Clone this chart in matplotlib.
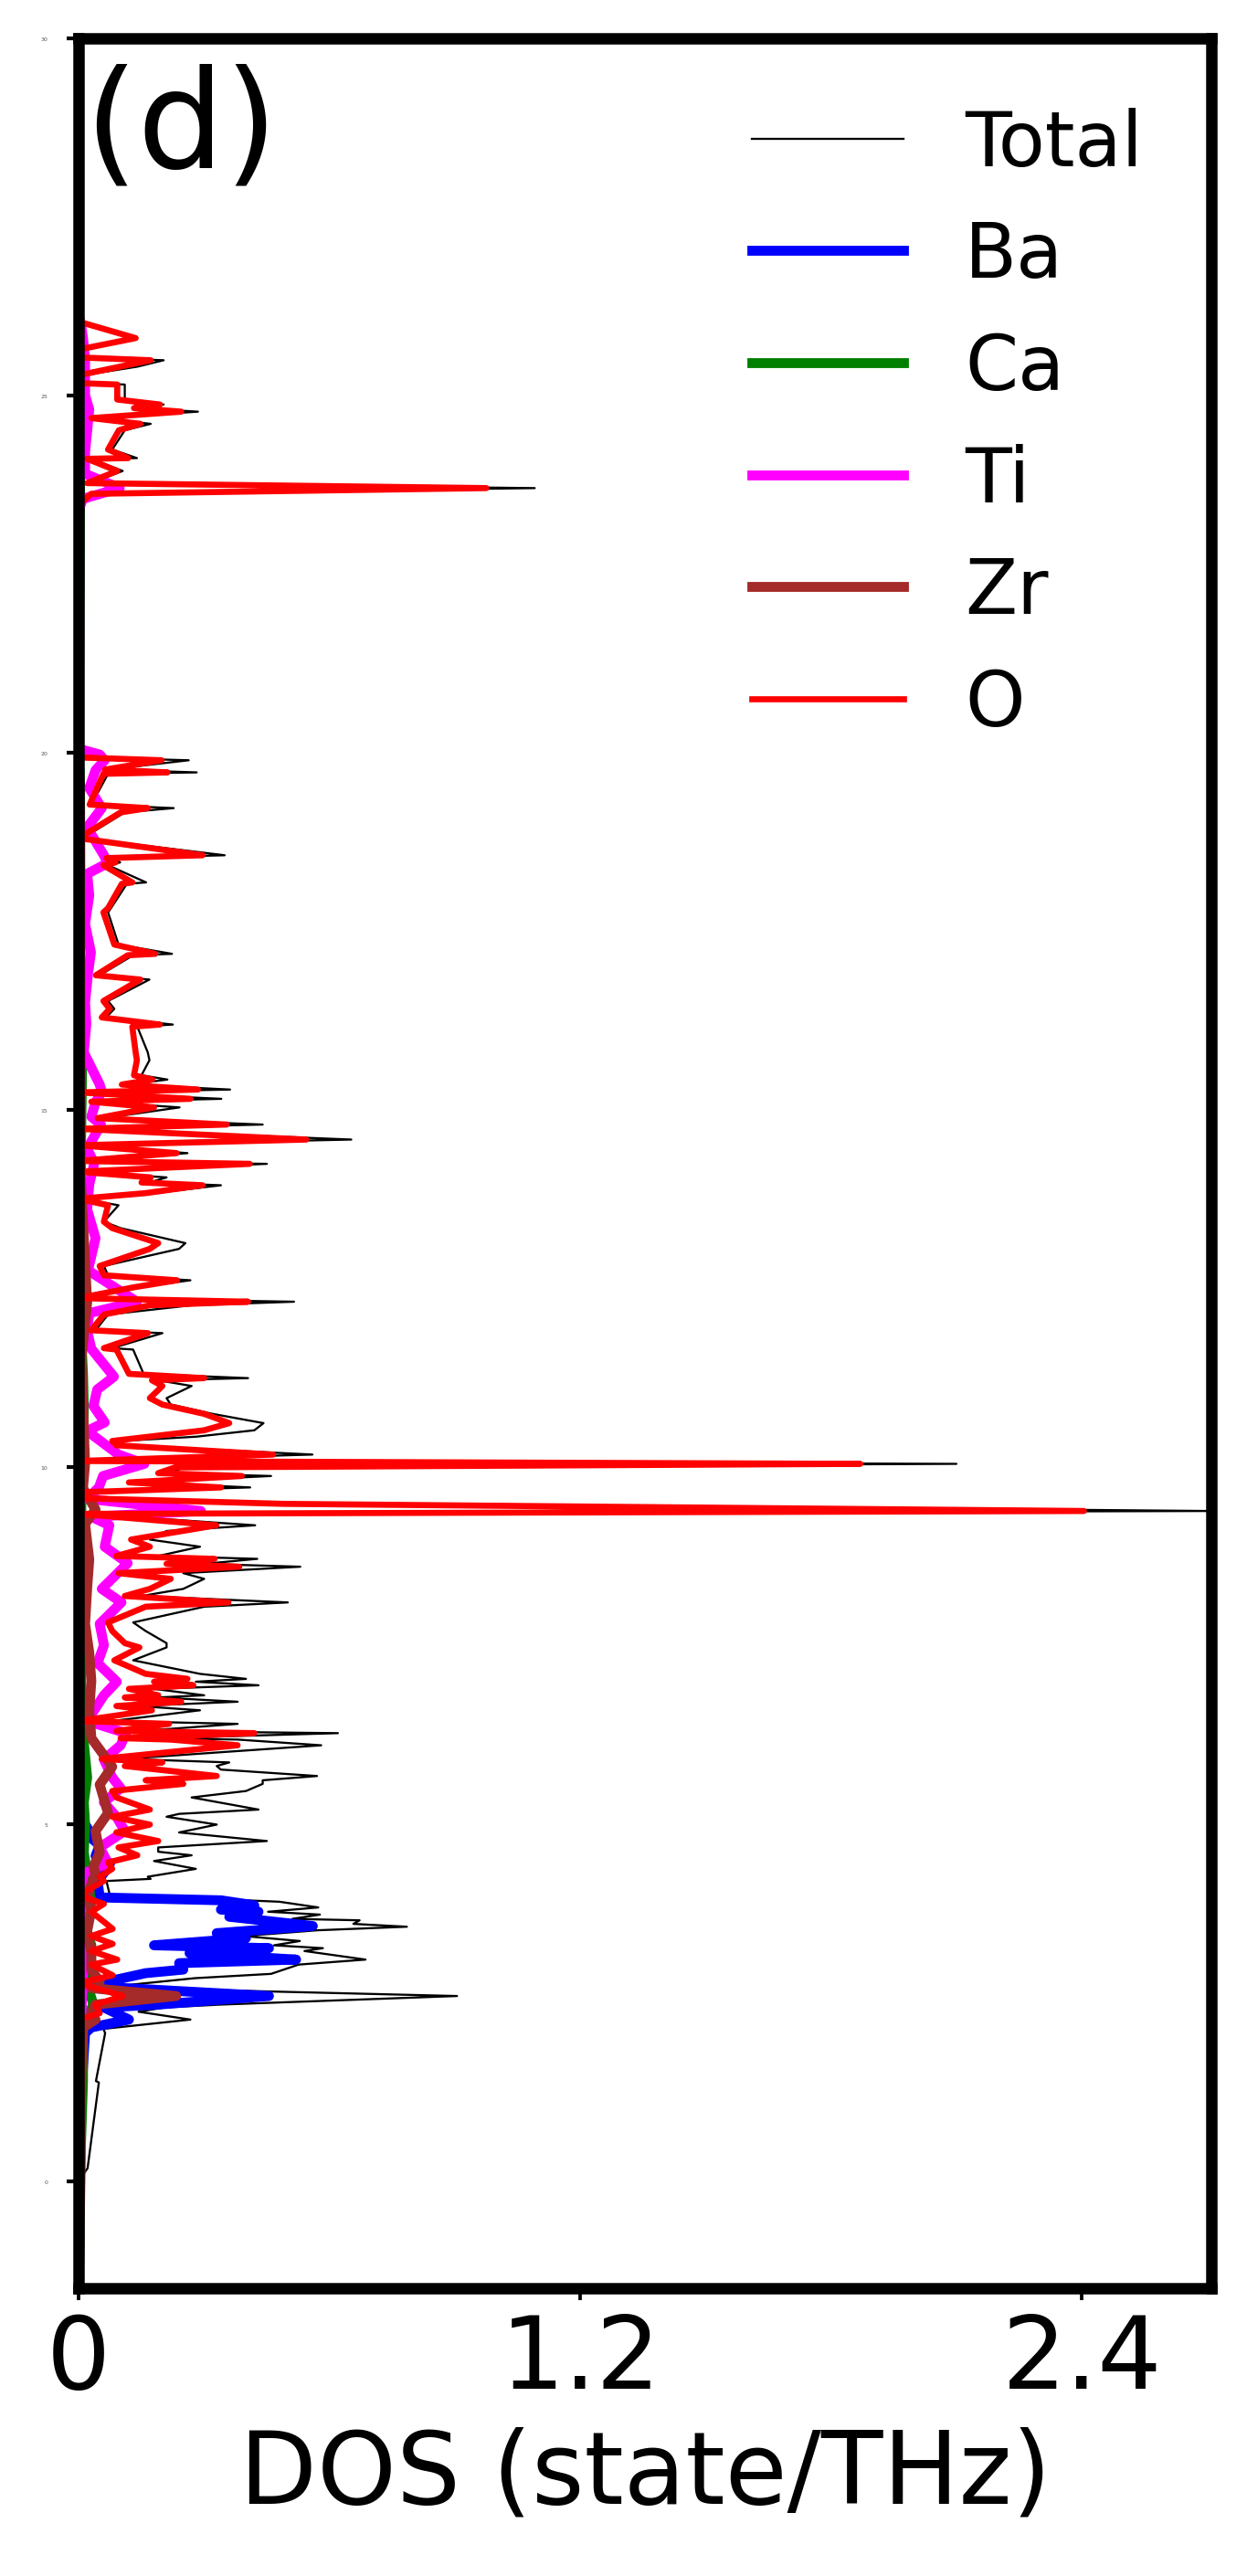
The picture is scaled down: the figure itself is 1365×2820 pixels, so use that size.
import matplotlib
matplotlib.use("Agg")
import matplotlib.pyplot as plt

# ---------------- data (frequency in THz, DOS in state/THz) ----------------
freq_total = [26.10, 26.03, 25.80, 25.64, 25.53, 25.49, 25.40, 25.28, 25.17, 25.15, 24.94, 24.87, 24.82,
              24.77, 24.68, 24.60, 24.51, 24.24, 24.12, 24.11, 23.94, 23.84, 23.77, 23.70, 23.62, 23.47,
              20.00, 19.93, 19.89, 19.76, 19.72, 19.70, 19.27, 19.22, 19.16, 18.80, 18.56, 18.52, 18.46,
              18.42, 18.18, 18.16, 17.82, 17.76, 17.31, 17.18, 17.16, 16.88, 16.82, 16.52, 16.41, 16.29,
              16.19, 16.16, 15.80, 15.69, 15.48, 15.42, 15.35, 15.28, 15.24, 15.15, 15.11, 15.03, 14.88,
              14.79, 14.73, 14.58, 14.50, 14.39, 14.28, 14.24, 14.13, 14.05, 13.98, 13.94, 13.83, 13.75,
              13.66, 13.43, 13.34, 13.13, 13.05, 12.81, 12.68, 12.61, 12.51, 12.36, 12.31, 12.26, 12.13,
              11.91, 11.87, 11.66, 11.64, 11.30, 11.24, 11.21, 11.13, 10.96, 10.87, 10.74, 10.61, 10.51,
              10.42, 10.36, 10.30, 10.17, 10.08, 10.04, 9.99, 9.91, 9.87, 9.78, 9.71, 9.64,
              9.56, 9.49, 9.38, 9.34, 9.18, 9.10, 8.98, 8.88, 8.75, 8.71, 8.64, 8.60, 8.51, 8.43, 8.29,
              8.19, 8.10, 8.04, 7.82, 7.70, 7.53, 7.47, 7.29, 7.10, 7.03, 6.99, 6.94, 6.89, 6.80, 6.77,
              6.71, 6.65, 6.59, 6.44, 6.40, 6.30, 6.27, 6.20, 6.18, 6.10, 5.91, 5.86, 5.81, 5.76, 5.67,
              5.61, 5.56, 5.46, 5.37, 5.20, 5.14, 5.10, 4.99, 4.88, 4.76, 4.67, 4.61, 4.56, 4.48, 4.37,
              4.26, 4.23, 4.20, 4.01, 3.91, 3.83, 3.77, 3.73, 3.67, 3.65, 3.60, 3.56, 3.51, 3.43, 3.36,
              3.30, 3.26, 3.22, 3.10, 3.03, 2.90, 2.84, 2.77, 2.71, 2.59, 2.47, 2.43, 2.37, 2.26, 2.13,
              2.07, 1.40, 1.38, 0.18, 0.00, -1.10]
dos_total = [0.0, 0.0, 0.14, 0.0, 0.01, 0.203, 0.14, 0.01, 0.01, 0.11, 0.11, 0.203, 0.14,
             0.285, 0.04, 0.172, 0.11, 0.08, 0.139, 0.03, 0.105, 0.06, 0.03, 1.091, 0.05, 0.0,
             0.0, 0.01, 0.263, 0.07, 0.282, 0.07, 0.03, 0.227, 0.11, 0.01, 0.349, 0.08, 0.099,
             0.07, 0.161, 0.115, 0.077, 0.07, 0.095, 0.223, 0.13, 0.05, 0.169, 0.07, 0.085, 0.065,
             0.225, 0.14, 0.165, 0.169, 0.15, 0.212, 0.12, 0.362, 0.01, 0.341, 0.04, 0.241, 0.06,
             0.44, 0.01, 0.652, 0.01, 0.26, 0.01, 0.45, 0.01, 0.21, 0.17, 0.34, 0.18, 0.01,
             0.095, 0.06, 0.10, 0.255, 0.24, 0.06, 0.07, 0.267, 0.14, 0.01, 0.515, 0.27, 0.07,
             0.04, 0.20, 0.08, 0.13, 0.155, 0.405, 0.19, 0.27, 0.21, 0.22, 0.32, 0.442, 0.42,
             0.28, 0.10, 0.11, 0.559, 0.02, 2.10, 0.25, 0.22, 0.46, 0.14, 0.41, 0.01,
             0.02, 0.54, 2.71, 0.02, 0.422, 0.21, 0.17, 0.29, 0.19, 0.427, 0.30, 0.53, 0.25, 0.30, 0.25,
             0.15, 0.50, 0.30, 0.13, 0.16, 0.21, 0.21, 0.13, 0.29, 0.40, 0.28, 0.43, 0.18, 0.30, 0.19,
             0.38, 0.14, 0.29, 0.08, 0.38, 0.15, 0.62, 0.20, 0.38, 0.58, 0.11, 0.36, 0.33, 0.34, 0.57,
             0.44, 0.44, 0.40, 0.27, 0.43, 0.24, 0.21, 0.33, 0.24, 0.45, 0.19, 0.19, 0.27, 0.18, 0.28,
             0.165, 0.172, 0.066, 0.074, 0.48, 0.573, 0.453, 0.577, 0.511, 0.672, 0.657, 0.785, 0.57, 0.394, 0.529,
             0.467, 0.584, 0.54, 0.686, 0.526, 0.46, 0.278, 0.161, 0.06, 0.905, 0.34, 0.205, 0.143, 0.267, 0.059,
             0.063, 0.041, 0.048, 0.021, 0.0, 0.0]

freq_O = [26.10, 26.03, 25.80, 25.64, 25.53, 25.49, 25.28, 25.17, 25.15, 24.94, 24.87, 24.82, 24.77,
          24.68, 24.60, 24.51, 24.24, 24.12, 24.11, 23.94, 23.84, 23.77, 23.70, 23.62, 23.47,
          20.00, 19.93, 19.89, 19.76, 19.72, 19.70, 19.27, 19.22, 19.16, 18.80, 18.56, 18.52, 18.46,
          18.42, 18.18, 18.16, 17.82, 17.76, 17.31, 17.18, 17.16, 16.88, 16.82, 16.52, 16.41, 16.29,
          16.19, 16.16, 15.80, 15.69, 15.48, 15.42, 15.35, 15.28, 15.24, 15.15, 15.11, 15.03, 14.88,
          14.79, 14.73, 14.58, 14.50, 14.39, 14.28, 14.24, 14.13, 14.05, 13.98, 13.94, 13.83, 13.75,
          13.66, 13.43, 13.34, 13.13, 13.05, 12.81, 12.68, 12.61, 12.51, 12.36, 12.31, 12.26, 12.13,
          11.91, 11.87, 11.66, 11.64, 11.30, 11.24, 11.21, 11.13, 10.96, 10.87, 10.74, 10.61, 10.51,
          10.36, 10.30, 10.17, 10.08, 10.04, 9.99, 9.91, 9.87, 9.78, 9.71, 9.64,
          9.56, 9.48, 9.38, 9.34, 9.18, 8.98, 8.88, 8.75, 8.71, 8.64, 8.60, 8.51, 8.43, 8.29, 8.19,
          8.10, 8.04, 7.82, 7.70, 7.53, 7.47, 7.29, 7.10, 7.03, 6.99, 6.94, 6.89, 6.80, 6.77, 6.71,
          6.65, 6.59, 6.44, 6.40, 6.30, 6.27, 6.20, 6.18, 6.10, 5.91, 5.86, 5.81, 5.67, 5.61, 5.56,
          5.46, 5.37, 5.20, 5.10, 4.99, 4.88, 4.76, 4.67, 4.56, 4.46, 4.37, 4.26, 4.20, 4.00, 3.88,
          3.77, 3.53, 3.43, 3.32, 3.22, 3.10, 3.03, 2.88, 2.77, 2.59, 2.47, 2.35, 2.26, 2.00, -1.10]
dos_O = [0.0, 0.0, 0.136, 0.0, 0.0, 0.172, 0.0, 0.0, 0.092, 0.092, 0.194, 0.132, 0.245,
         0.03, 0.147, 0.096, 0.07, 0.118, 0.02, 0.092, 0.05, 0.02, 0.975, 0.03, 0.0,
         0.0, 0.0, 0.198, 0.063, 0.212, 0.059, 0.026, 0.165, 0.10, 0.0, 0.296, 0.066, 0.088,
         0.059, 0.128, 0.103, 0.070, 0.059, 0.085, 0.183, 0.117, 0.041, 0.147, 0.059, 0.074, 0.055,
         0.194, 0.128, 0.136, 0.139, 0.132, 0.176, 0.103, 0.285, 0.0, 0.267, 0.030, 0.180, 0.045,
         0.354, 0.0, 0.544, 0.0, 0.234, 0.0, 0.409, 0.0, 0.172, 0.15, 0.296, 0.16, 0.0,
         0.070, 0.06, 0.08, 0.19, 0.17, 0.05, 0.06, 0.235, 0.13, 0.0, 0.405, 0.17, 0.06,
         0.03, 0.165, 0.06, 0.09, 0.12, 0.30, 0.175, 0.20, 0.17, 0.20, 0.30, 0.36, 0.30,
         0.08, 0.09, 0.465, 0.0, 1.87, 0.23, 0.19, 0.39, 0.12, 0.34, 0.0,
         0.0, 0.49, 2.405, 0.0, 0.329, 0.125, 0.17, 0.09, 0.325, 0.21, 0.384, 0.095, 0.22, 0.17, 0.11,
         0.358, 0.16, 0.07, 0.08, 0.11, 0.145, 0.085, 0.16, 0.26, 0.18, 0.274, 0.12, 0.19, 0.11, 0.245,
         0.09, 0.175, 0.0, 0.216, 0.09, 0.42, 0.10, 0.22, 0.38, 0.055, 0.20, 0.11, 0.33, 0.16, 0.25,
         0.08, 0.09, 0.17, 0.08, 0.17, 0.09, 0.19, 0.095, 0.14, 0.07, 0.08, 0.05, 0.06, 0.0, 0.06,
         0.03, 0.081, 0.03, 0.081, 0.03, 0.092, 0.03, 0.081, 0.0, 0.106, 0.04, 0.05, 0.0, 0.0, 0.0]

freq_Ti = [26.10, 26.00, 25.80, 25.50, 25.00, 24.80, 24.50, 24.20, 23.90, 23.70, 23.55, 23.40,
           20.05, 19.97, 19.89, 19.75, 19.50, 19.22, 18.95, 18.56, 18.45, 18.30, 18.00, 17.60, 17.20,
           16.90, 16.50, 16.20, 15.80, 15.35, 15.25, 15.10, 14.90, 14.79, 14.45, 14.25, 13.95, 13.60,
           13.20, 12.75, 12.31, 12.15, 11.90, 11.65, 11.26, 11.08, 10.85, 10.62, 10.50, 10.17, 10.04,
           9.87, 9.71, 9.55, 9.38, 9.30, 9.18, 8.88, 8.65, 8.29, 8.10, 7.80, 7.50, 7.25, 6.99, 6.80,
           6.44, 6.27, 6.10, 5.90, 5.65, 5.50, 5.30, 5.10, 4.90, 4.67, 4.45, 4.30, 3.60, 2.90, 2.00,
           1.00, 0.00]
dos_Ti = [0.0, 0.005, 0.01, 0.015, 0.015, 0.025, 0.02, 0.015, 0.015, 0.098, 0.01, 0.0,
          0.0, 0.05, 0.062, 0.04, 0.025, 0.055, 0.02, 0.06, 0.069, 0.02, 0.025, 0.015, 0.029,
          0.022, 0.015, 0.018, 0.012, 0.05, 0.055, 0.04, 0.03, 0.053, 0.02, 0.037, 0.025, 0.02,
          0.04, 0.022, 0.139, 0.025, 0.02, 0.03, 0.084, 0.044, 0.035, 0.062, 0.02, 0.095, 0.157,
          0.058, 0.048, 0.02, 0.292, 0.03, 0.073, 0.062, 0.117, 0.055, 0.102, 0.05, 0.06, 0.045, 0.091, 0.06,
          0.02, 0.113, 0.10, 0.06, 0.08, 0.10, 0.06, 0.09, 0.11, 0.05, 0.07, 0.01, 0.01, 0.01, 0.004,
          0.002, 0.0]

freq_Ba = [5.10, 4.95, 4.80, 4.70, 4.55, 4.45, 4.39, 4.20, 3.97, 3.93, 3.86, 3.80, 3.77, 3.70,
           3.57, 3.47, 3.40, 3.30, 3.26, 3.19, 3.10, 3.05, 2.96, 2.91, 2.82, 2.72, 2.59, 2.47, 2.43,
           2.26, 2.15, 2.07, 1.40, 0.20]
dos_Ba = [0.0, 0.02, 0.03, 0.05, 0.04, 0.075, 0.07, 0.045, 0.05, 0.34, 0.42, 0.34, 0.43, 0.36,
          0.56, 0.33, 0.40, 0.18, 0.455, 0.265, 0.52, 0.24, 0.25, 0.16, 0.09, 0.05, 0.455, 0.19, 0.06,
          0.12, 0.03, 0.015, 0.008, 0.0]

freq_Ca = [26.00, 25.00, 20.00, 19.50, 16.00, 15.70, 14.00, 13.20, 12.00, 11.30, 10.80, 10.30, 9.50,
           8.00, 6.50, 5.65, 5.30, 5.00, 4.60, 3.90, 3.60, 3.30, 3.00, 2.75, 2.47, 2.20, 1.40, 0.50, -1.10]
dos_Ca = [0.0, 0.004, 0.0, 0.003, 0.004, 0.008, 0.004, 0.008, 0.004, 0.01, 0.012, 0.01, 0.006,
          0.004, 0.006, 0.02, 0.012, 0.015, 0.012, 0.03, 0.012, 0.03, 0.015, 0.02, 0.035, 0.01, 0.01, 0.005, 0.001]

freq_Zr = [26.10, 20.00, 19.00, 16.00, 14.00, 12.30, 11.50, 10.04, 9.70, 9.40, 9.20, 8.70, 8.30,
           7.80, 7.40, 7.00, 6.60, 6.20, 5.80, 5.55, 5.15, 4.90, 4.60, 4.40, 4.30, 4.00, 3.80, 3.50,
           3.20, 2.95, 2.80, 2.70, 2.59, 2.47, 2.35, 2.26, 2.15, 1.50, 0.00, -1.10]
dos_Zr = [0.0, 0.0, 0.003, 0.004, 0.005, 0.02, 0.006, 0.015, 0.01, 0.04, 0.015, 0.025, 0.02,
          0.015, 0.025, 0.03, 0.025, 0.03, 0.08, 0.05, 0.07, 0.04, 0.05, 0.035, 0.04, 0.02, 0.03, 0.02,
          0.03, 0.03, 0.05, 0.03, 0.233, 0.04, 0.03, 0.04, 0.01, 0.006, 0.003, 0.001]

labels = ["Total", "Ba", "Ca", "Ti", "Zr", "O"]
colors = ["black", "blue", "green", "magenta", "brown", "red"]
xticks = [0, 1.2, 2.4]
xtick_labels = ["0", "1.2", "2.4"]
yticks = [0, 5, 10, 15, 20, 25, 30]

# ---------------- figure ----------------
fig = plt.figure(figsize=(4.55, 9.403), dpi=300)
ax = fig.add_axes([0.0632, 0.1117, 0.9082, 0.8732])

series = [(dos_total, freq_total), (dos_Ba, freq_Ba), (dos_Ca, freq_Ca),
          (dos_Ti, freq_Ti), (dos_Zr, freq_Zr), (dos_O, freq_O)]
widths = [0.55, 2.6, 2.6, 2.6, 2.6, 1.6]
for (d, f), lab, col, lw in zip(series, labels, colors, widths):
    ax.plot(d, f, color=col, lw=lw, label=lab)

ax.set_xlim(0, 2.71)
ax.set_ylim(-1.5, 30)
ax.set_xticks(xticks)
ax.set_xticklabels(xtick_labels)
ax.set_yticks(yticks)
ax.tick_params(axis="x", labelsize=26.5, length=3.0, width=0.9, pad=3)
ax.tick_params(axis="y", labelsize=1.5, length=3.2, width=1.0, pad=5, labelcolor="#555555")
for sp in ax.spines.values():
    sp.set_linewidth(3.0)

ax.set_xlabel("DOS (state/THz)", fontsize=26.5, labelpad=4.5)
ax.text(0.005, 0.989, "(d)", transform=ax.transAxes, fontsize=36, ha="left", va="top")

ax.legend(loc="upper right", frameon=False, fontsize=20)

fig.savefig("out.png", dpi=300)
